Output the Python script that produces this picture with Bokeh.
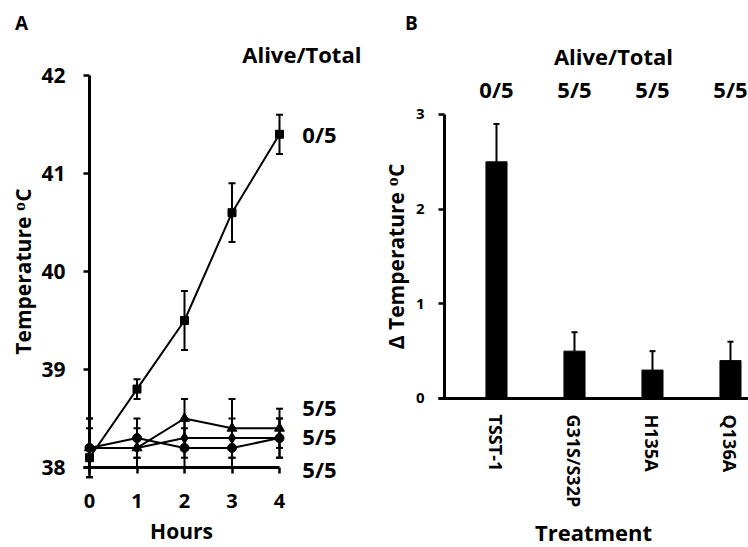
from bokeh.plotting import figure
from bokeh.layouts import row
from bokeh.models import Range1d, FixedTicker, Whisker, ColumnDataSource, Label, TeeHead
from bokeh.embed import file_html
from bokeh.resources import INLINE

# ---- Panel A data ----
hours = [0, 1, 2, 3, 4]
tsst_temp = [38.1, 38.8, 39.5, 40.6, 41.4]
tsst_err = [0.1, 0.1, 0.3, 0.3, 0.2]
mut1_temp = [38.2, 38.2, 38.5, 38.4, 38.4]
mut1_err = [0.3, 0.2, 0.2, 0.3, 0.2]
mut2_temp = [38.2, 38.3, 38.2, 38.2, 38.3]
mut2_err = [0.3, 0.2, 0.2, 0.2, 0.2]
mut3_temp = [38.2, 38.2, 38.3, 38.3, 38.3]
mut3_err = [0.2, 0.1, 0.2, 0.2, 0.2]
alive_a = ["0/5", "5/5", "5/5", "5/5"]
y_ticks_a = [38, 39, 40, 41, 42]

# ---- Panel B data ----
treatments = ["TSST-1", "G31S/S32P", "H135A", "Q136A"]
delta_temp = [2.5, 0.5, 0.3, 0.4]
delta_err = [0.4, 0.2, 0.2, 0.2]
alive_b = ["0/5", "5/5", "5/5", "5/5"]
y_ticks_b = [0, 1, 2, 3]

FONT = "Open Sans"


def style_axes(p):
    for ax in (p.xaxis[0], p.yaxis[0]):
        ax.axis_line_width = 3
        ax.axis_line_color = "black"
        ax.major_tick_line_width = 2.5
        ax.major_tick_line_color = "black"
        ax.major_tick_in = 0
        ax.major_tick_out = 6
        ax.minor_tick_in = 0
        ax.minor_tick_out = 0
        ax.minor_tick_line_color = None
        ax.major_label_text_font = FONT
        ax.major_label_text_font_style = "bold"
        ax.major_label_text_color = "black"
        ax.axis_label_text_font = FONT
        ax.axis_label_text_font_style = "bold"
        ax.axis_label_text_color = "black"
    p.xgrid.grid_line_color = None
    p.ygrid.grid_line_color = None
    p.outline_line_color = None
    p.background_fill_color = "white"
    p.border_fill_color = "white"


def add_label(p, x, y, text, size, align="center"):
    p.add_layout(Label(x=x, y=y, text=text, text_font=FONT, text_font_style="bold",
                       text_font_size=size, text_color="black", text_align=align,
                       text_baseline="middle"))


# ================= Panel A =================
pa = figure(width=374, height=547,
            x_range=Range1d(-1.8737, 6.0), y_range=Range1d(37.1837, 42.765),
            output_backend="svg", toolbar_location=None,
            min_border_left=0, min_border_right=0, min_border_top=0, min_border_bottom=0)
style_axes(pa)
pa.xaxis.fixed_location = 38
pa.yaxis.fixed_location = 0
pa.xaxis.ticker = FixedTicker(ticks=hours)
pa.yaxis.ticker = FixedTicker(ticks=y_ticks_a)
pa.xaxis.bounds = (-0.126, 4)
pa.yaxis.bounds = (38, 42)
pa.xaxis.major_label_text_font_size = "20px"
pa.yaxis.major_label_text_font_size = "21px"
pa.xaxis.major_label_standoff = 21
pa.yaxis.major_label_standoff = 18
pa.xaxis.axis_label = "Hours"
pa.yaxis.axis_label = "Temperature \u1d3cC"
pa.xaxis.axis_label_text_font_size = "21px"
pa.yaxis.axis_label_text_font_size = "21px"
pa.xaxis.axis_label_standoff = 5
pa.yaxis.axis_label_standoff = 1

series = [
    (tsst_temp, tsst_err, "square", 8),
    (mut1_temp, mut1_err, "triangle", 10),
    (mut2_temp, mut2_err, "circle", 9),
    (mut3_temp, mut3_err, "diamond", 11),
]
for temp, err, marker, size in series:
    src = ColumnDataSource(dict(x=hours, y=temp,
                                lo=[t - e for t, e in zip(temp, err)],
                                hi=[t + e for t, e in zip(temp, err)]))
    pa.add_layout(Whisker(source=src, base="x", lower="lo", upper="hi", line_color="black",
                          line_width=2,
                          lower_head=TeeHead(size=7, line_width=2, line_color="black"),
                          upper_head=TeeHead(size=7, line_width=2, line_color="black")))
    pa.line("x", "y", source=src, line_color="black", line_width=2)
    pa.scatter("x", "y", source=src, marker=marker, size=size, color="black")

add_label(pa, -1.43, 42.54, "A", "19px")
add_label(pa, 4.47, 42.22, "Alive/Total", "22px")
label_y_a = [41.40, 38.62, 38.32, 37.98]
for txt, yy in zip(alive_a, label_y_a):
    add_label(pa, 4.48, yy, txt, "22px", align="left")

# ================= Panel B =================
idx = list(range(len(treatments)))
pb = figure(width=374, height=547,
            x_range=Range1d(-1.564, 3.231), y_range=Range1d(-1.574, 4.204),
            output_backend="svg", toolbar_location=None,
            min_border_left=0, min_border_right=0, min_border_top=0, min_border_bottom=0)
style_axes(pb)
pb.xaxis.fixed_location = 0
pb.yaxis.fixed_location = -0.667
pb.xaxis.ticker = FixedTicker(ticks=idx)
pb.xaxis.major_label_overrides = {i: t for i, t in zip(idx, treatments)}
pb.xaxis.major_label_orientation = "vertical"
pb.xaxis.major_tick_out = 0
pb.xaxis.bounds = (-0.744, 3.231)
pb.xaxis.major_label_text_font_size = "18px"
pb.xaxis.major_label_standoff = 16
pb.xaxis.axis_label = "Treatment"
pb.xaxis.axis_label_text_font_size = "22px"
pb.xaxis.axis_label_standoff = 7
pb.yaxis.ticker = FixedTicker(ticks=y_ticks_b)
pb.yaxis.bounds = (0, 3)
pb.yaxis.major_label_text_font_size = "15px"
pb.yaxis.major_label_standoff = 14
pb.yaxis.axis_label = "\u0394 Temperature \u1d3cC"
pb.yaxis.axis_label_text_font_size = "21px"
pb.yaxis.axis_label_standoff = 3

srcb = ColumnDataSource(dict(x=idx, top=delta_temp,
                             hi=[v + e for v, e in zip(delta_temp, delta_err)]))
pb.add_layout(Whisker(source=srcb, base="x", lower="top", upper="hi", line_color="black",
                      line_width=2, lower_head=None,
                      upper_head=TeeHead(size=6, line_width=2, line_color="black")))
pb.vbar(x="x", top="top", bottom=0, width=0.27, source=srcb, color="black")

add_label(pb, -1.09, 3.97, "B", "19px")
add_label(pb, 1.5, 3.62, "Alive/Total", "22px")
for i, txt in zip(idx, alive_b):
    add_label(pb, i, 3.27, txt, "22px")

layout = row(pa, pb)
open("out.html", "w").write(file_html(layout, INLINE))
